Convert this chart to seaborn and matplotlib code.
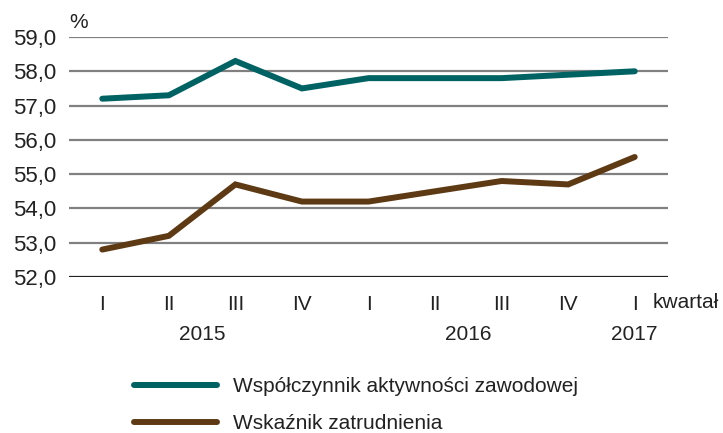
import pandas as pd
import matplotlib.pyplot as plt
import seaborn as sns

# Data
quarters = ['I', 'II', 'III', 'IV', 'I', 'II', 'III', 'IV', 'I']
years = ['2015', '2016', '2017']
year_pos = [1.5, 5.5, 8]
activity = [57.2, 57.3, 58.3, 57.5, 57.8, 57.8, 57.8, 57.9, 58.0]
employment = [52.8, 53.2, 54.7, 54.2, 54.2, 54.5, 54.8, 54.7, 55.5]
series_names = ['Współczynnik aktywności zawodowej', 'Wskaźnik zatrudnienia']
colors = ['#006262', '#5e3a14']

pos = list(range(len(quarters)))
df = pd.DataFrame({
    'pos': pos * 2,
    'value': activity + employment,
    'series': [series_names[0]] * len(pos) + [series_names[1]] * len(pos),
})

sns.set_style('white')
plt.rcParams['font.family'] = ['Liberation Sans', 'DejaVu Sans']
txt = '#222222'

fig = plt.figure(figsize=(7.23, 4.33), dpi=100)
ax = fig.add_axes([69 / 723, 1 - 277 / 433, (668 - 69) / 723, (277 - 37) / 433])

# grid lines
for v in range(53, 60):
    ax.axhline(v, color='#808080', lw=1.6, zorder=0)
ax.axhline(52, color='#222222', lw=1.6, zorder=0)

sns.lineplot(data=df, x='pos', y='value', hue='series', palette=colors,
             lw=4.3, sort=False, ax=ax, legend=False,
             solid_capstyle='round', solid_joinstyle='miter')

ax.set_xlim(-0.5, 8.5)
ax.set_ylim(52, 59)
ax.set_yticks(range(52, 60))
ax.set_yticklabels([f'{v},0' for v in range(52, 60)], fontsize=16, color=txt)
ax.set_xticks(pos)
ax.set_xticklabels(quarters, fontsize=15, color=txt)
ax.tick_params(axis='y', length=0, pad=9)
ax.tick_params(axis='x', length=0, pad=13)
ax.set_xlabel('')
ax.set_ylabel('')
for s in ax.spines.values():
    s.set_visible(False)

# year labels
tr = ax.get_xaxis_transform()
for p, y in zip(year_pos, years):
    ax.text(p, -0.24, y, transform=tr, ha='center', va='center', fontsize=15, color=txt)
ax.text(8.275, -0.108, 'kwartał', transform=tr, ha='left', va='center', fontsize=15, color=txt)
ax.text(-0.5, 1.06, '%', transform=tr, ha='left', va='center', fontsize=15, color=txt)

# legend
handles = [plt.Line2D([], [], color=c, lw=4.3, solid_capstyle='round') for c in colors]
fig.legend(handles, series_names, loc='upper left', bbox_to_anchor=(134 / 723, 1 - 377 / 433),
           frameon=False, fontsize=15, handlelength=4.0, handletextpad=0.75,
           labelspacing=0.86, borderpad=0, borderaxespad=0, labelcolor=txt)

fig.savefig('out.png', dpi=100)
